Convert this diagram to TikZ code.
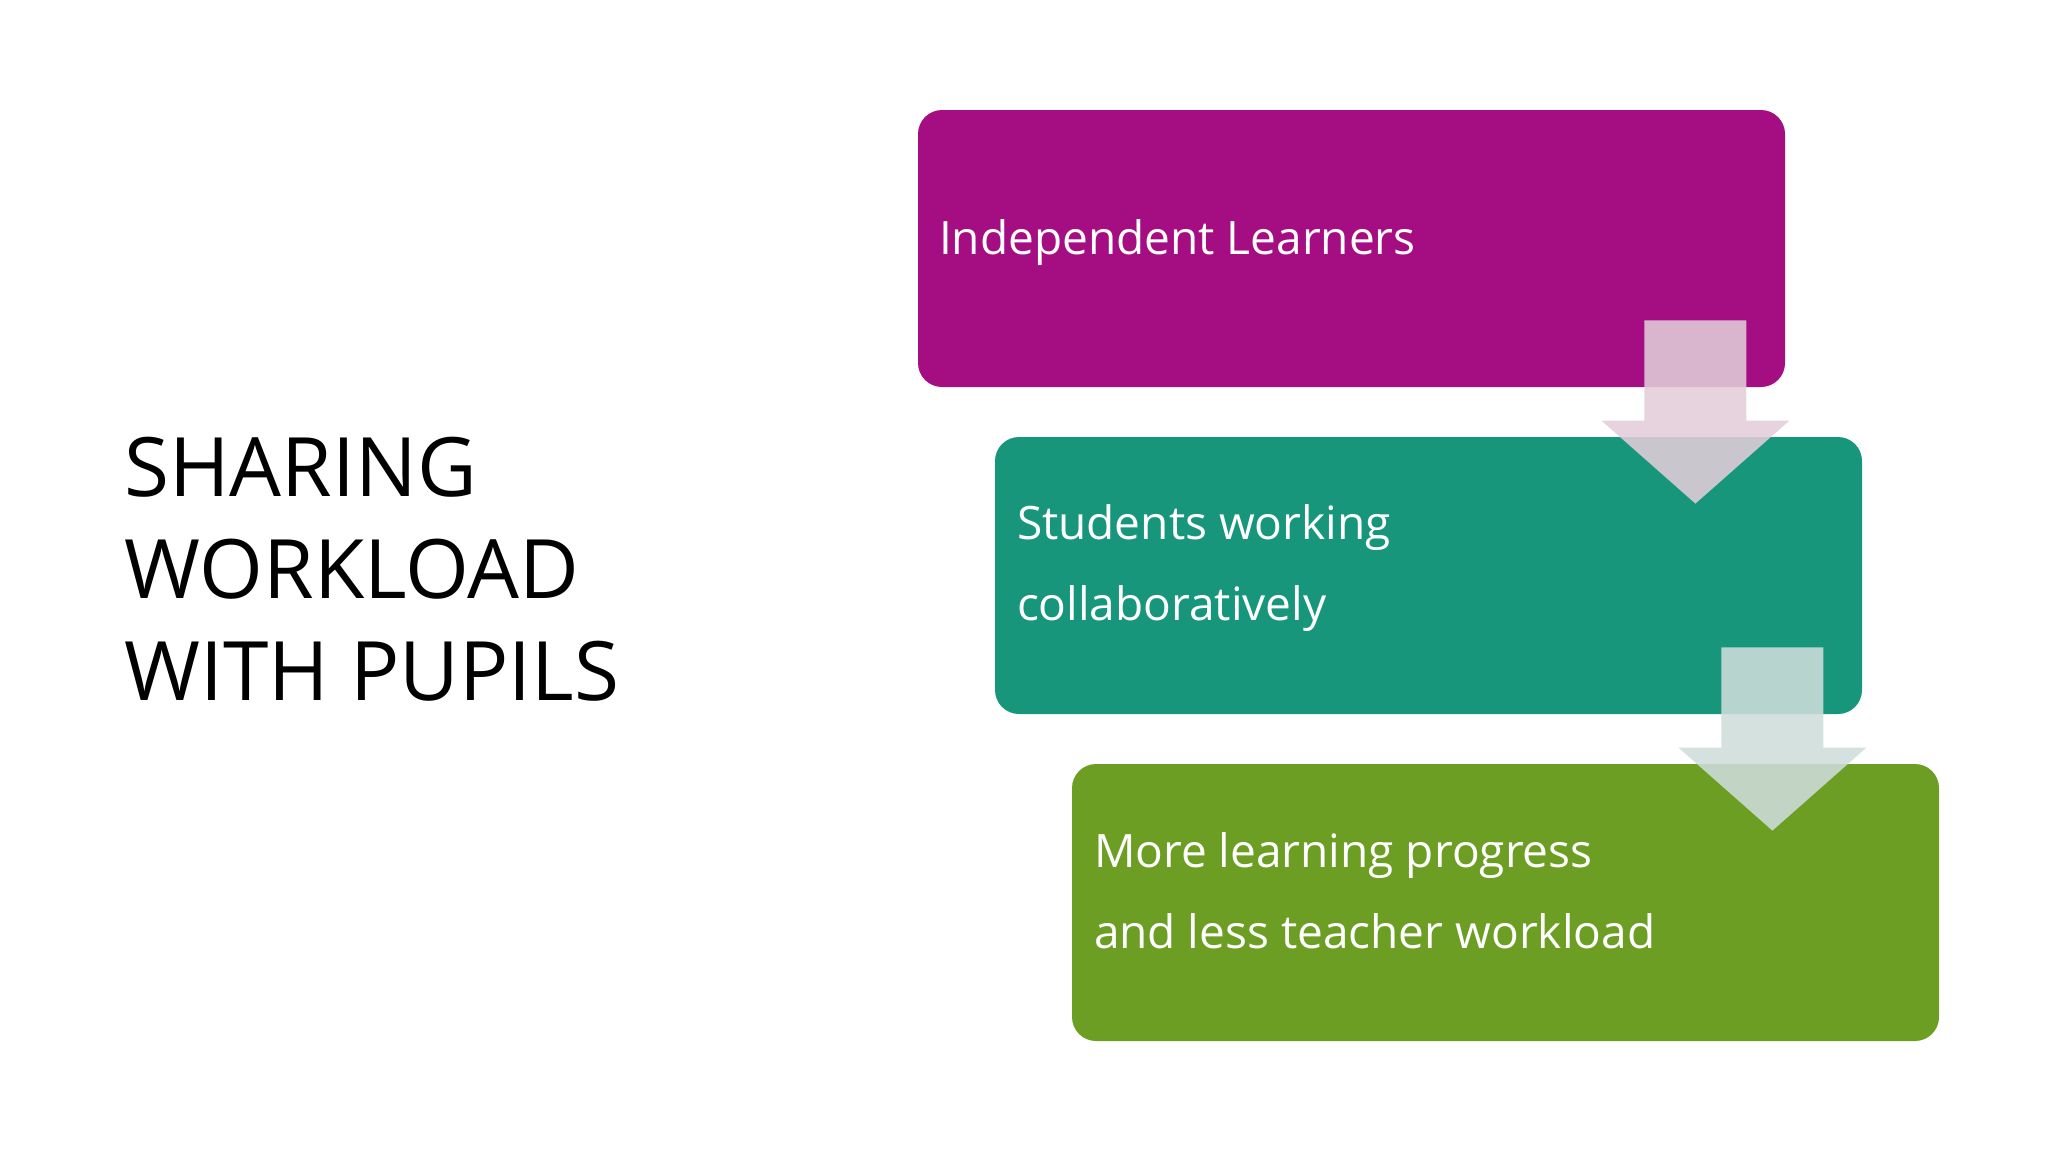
\documentclass[tikz,border=0pt]{standalone}
\usepackage{fontspec}
\setmainfont{Open Sans}
\usetikzlibrary{calc,positioning}

\definecolor{magentaBox}{RGB}{165,14,130}
\definecolor{tealBox}{RGB}{23,150,124}
\definecolor{greenBox}{RGB}{108,158,35}
\definecolor{pinkArrow}{RGB}{226,205,217}
\definecolor{mintArrow}{RGB}{206,221,219}

\begin{document}
\begin{tikzpicture}[x=0.5pt, y=-0.5pt]
            \tikzstyle{block} = [rectangle, rounded corners=12pt, inner sep=0pt,
                minimum width=433.5pt, minimum height=138.5pt]
            \tikzstyle{label} = [inner sep=0pt, anchor=base west, align=left,
                text=white, font=\fontsize{23}{40.5}\selectfont]
            \tikzstyle{title} = [inner sep=0pt, anchor=base west, align=left,
                font=\fontsize{41}{51}\selectfont]
            \useasboundingbox (0,0) rectangle (2048,1152);

            % title on the left
            \node [title] (heading) at (124,700) {SHARING\\WORKLOAD\\WITH PUPILS};

            % the three steps
            \node [block, fill=magentaBox] (learners) at (1351.5,248.5) {};
            \node [block, fill=tealBox] (collab) at (1428.5,575.5) {};
            \node [block, fill=greenBox] (progress) at (1505.5,902.5) {};

            \node [label] (learnersText) at ($(learners.west)+(21,6)$) {Independent Learners};
            \node [label] (collabText) at ($(collab.west)+(22,45)$) {Students working\\collaboratively};
            \node [label] (progressText) at ($(progress.west)+(22,46)$) {More learning progress\\and less teacher workload};

            % block arrows between the steps
            \foreach \from/\to/\col/\id in {learners/collab/pinkArrow/A, collab/progress/mintArrow/B} {
                \coordinate (top\id) at ($(\from.south east)+(-90,-67)$);
                \coordinate (tip\id) at ($(\to.north east)+(-167,67)$);
                \fill [\col, opacity=0.88]
                    ($(top\id)+(-51,0)$) -- ($(top\id)+(51,0)$) -- ($(tip\id)+(51,-83)$)
                    -- ($(tip\id)+(94,-83)$) -- (tip\id) -- ($(tip\id)+(-94,-83)$)
                    -- ($(tip\id)+(-51,-83)$) -- cycle;
            }
\end{tikzpicture}
\end{document}
